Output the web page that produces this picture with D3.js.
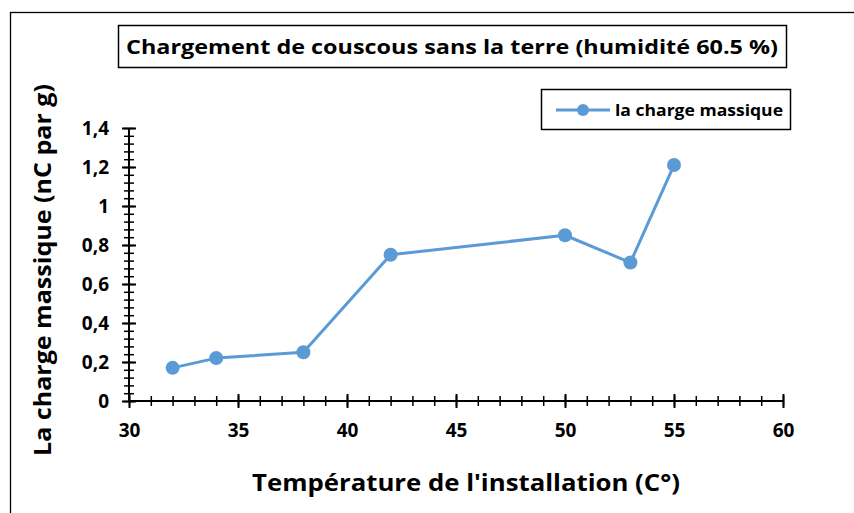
<!DOCTYPE html>
<html>
<head>
<meta charset="utf-8">
<script src="https://cdn.jsdelivr.net/npm/d3@7"></script>
<style>
  body { margin: 0; background: #fff; }
  text { font-family: "Open Sans", Lato, sans-serif; font-weight: bold; fill: #000; }
</style>
</head>
<body>
<svg id="viz"></svg>
<script>
// data
var temperatures = [32, 34, 38, 42, 50, 53, 55];
var charges = [0.17, 0.22, 0.25, 0.75, 0.85, 0.71, 1.21];
var xTicks = [30, 35, 40, 45, 50, 55, 60];
var yTicks = [0, 0.2, 0.4, 0.6, 0.8, 1, 1.2, 1.4];
var seriesName = 'la charge massique';
var titleText = 'Chargement de couscous sans la terre (humidité 60.5 %)';
var xLabel = "Température de l'installation (C°)";
var yLabel = 'La charge massique (nC par g)';

var width = 854;
var height = 513;
var margin = { top: 128, right: 71, bottom: 112, left: 129 };
var drawWidth = width - margin.left - margin.right;
var drawHeight = height - margin.top - margin.bottom;
var blue = '#5b9bd5';
var font = '"Open Sans", Lato, sans-serif';

var svg = d3.select('#viz')
            .attr('width', width)
            .attr('height', height);

// outer chart frame (runs past the right and bottom edges)
svg.append('rect')
   .attr('x', 10.5).attr('y', 12.5)
   .attr('width', 900).attr('height', 600)
   .attr('fill', 'none').attr('stroke', '#000').attr('stroke-width', 1.3);

var g = svg.append('g')
           .attr('transform', `translate(${margin.left}, ${margin.top})`);

var xScale = d3.scaleLinear().domain([30, 60]).range([0, drawWidth]);
var yScale = d3.scaleLinear().domain([0, 1.4]).range([drawHeight, 0]);

// minor ticks first
var xMinor = d3.axisBottom(xScale).tickValues(d3.range(30, 60.5, 1)).tickFormat('').tickSize(5);
var gxm = g.append('g').attr('transform', `translate(0, ${drawHeight})`).call(xMinor);
gxm.select('.domain').remove();
gxm.selectAll('.tick line').attr('y1', -5).attr('y2', 5).attr('stroke-width', 1.5);

var yMinor = d3.axisLeft(yScale).tickValues(d3.range(0, 1.41, 0.04)).tickFormat('').tickSize(5);
var gym = g.append('g').call(yMinor);
gym.select('.domain').remove();
gym.selectAll('.tick line').attr('x1', -5).attr('x2', 5).attr('stroke-width', 1.5);

// major axes
var xAxis = d3.axisBottom(xScale).tickValues(xTicks).tickSize(7).tickPadding(16);
var gx = g.append('g').attr('transform', `translate(0, ${drawHeight})`).call(xAxis);
gx.selectAll('.tick line').attr('y1', -7).attr('y2', 7).attr('stroke-width', 2);
gx.select('.domain').attr('stroke-width', 2).attr('d', `M0,0H${drawWidth}`);
gx.selectAll('.tick text').style('font-size', '19px').style('font-family', font).style('font-weight', 'bold');

var yAxis = d3.axisLeft(yScale).tickValues(yTicks).tickSize(7).tickPadding(13)
              .tickFormat(function(d){ return String(+d.toFixed(1)).replace('.', ','); });
var gy = g.append('g').call(yAxis);
gy.selectAll('.tick line').attr('x1', -7).attr('x2', 7).attr('stroke-width', 2);
gy.select('.domain').attr('stroke-width', 2).attr('d', `M0,0V${drawHeight}`);
gy.selectAll('.tick text').style('font-size', '19px').style('font-family', font).style('font-weight', 'bold');

// series
var points = temperatures.map(function(t, i){ return { x: t, y: charges[i] }; });
var line = d3.line().x(function(d){ return xScale(d.x); }).y(function(d){ return yScale(d.y); });

g.append('path')
 .datum(points)
 .attr('d', line)
 .attr('fill', 'none')
 .attr('stroke', blue)
 .attr('stroke-width', 3)
 .attr('stroke-linejoin', 'round');

g.selectAll('circle.pt')
 .data(points)
 .enter()
 .append('circle')
 .attr('class', 'pt')
 .attr('cx', function(d){ return xScale(d.x); })
 .attr('cy', function(d){ return yScale(d.y); })
 .attr('r', 7)
 .attr('fill', blue);

// title box
svg.append('rect')
   .attr('x', 118.5).attr('y', 25.5).attr('width', 668).attr('height', 42)
   .attr('fill', '#fff').attr('stroke', '#000').attr('stroke-width', 1.5);
svg.append('text')
   .attr('x', 452).attr('y', 54)
   .attr('text-anchor', 'middle')
   .attr('textLength', 652).attr('lengthAdjust', 'spacingAndGlyphs')
   .style('font-size', '20px')
   .text(titleText);

// legend
var legend = svg.append('g').attr('transform', 'translate(541, 89)');
legend.append('rect')
      .attr('x', 0.5).attr('y', 0.5).attr('width', 249).attr('height', 40)
      .attr('fill', '#fff').attr('stroke', '#000').attr('stroke-width', 1.5);
legend.append('line')
      .attr('x1', 15).attr('x2', 69).attr('y1', 21).attr('y2', 21)
      .attr('stroke', blue).attr('stroke-width', 3);
legend.append('circle').attr('cx', 42).attr('cy', 21).attr('r', 6).attr('fill', blue);
legend.append('text')
      .attr('x', 74).attr('y', 27)
      .attr('textLength', 168).attr('lengthAdjust', 'spacingAndGlyphs')
      .style('font-size', '16px')
      .text(seriesName);

// axis titles
svg.append('text')
   .attr('x', 466).attr('y', 491)
   .attr('text-anchor', 'middle')
   .attr('textLength', 428).attr('lengthAdjust', 'spacingAndGlyphs')
   .style('font-size', '24px')
   .text(xLabel);

svg.append('text')
   .attr('transform', 'translate(51, 270) rotate(-90)')
   .attr('text-anchor', 'middle')
   .attr('textLength', 372).attr('lengthAdjust', 'spacingAndGlyphs')
   .style('font-size', '24px')
   .text(yLabel);
</script>
</body>
</html>
